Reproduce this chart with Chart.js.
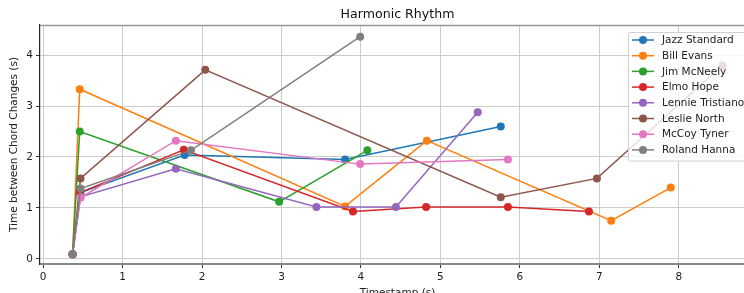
<!DOCTYPE html>
<html>
<head>
<meta charset="utf-8">
<script src="https://cdn.jsdelivr.net/npm/chart.js@4/dist/chart.umd.min.js"></script>
<style>
  html, body { margin: 0; padding: 0; background: #fff; }
  #wrap { width: 744px; height: 293px; overflow: hidden; position: relative; }
  canvas { display: block; }
</style>
</head>
<body>
<div id="wrap"><canvas id="myChart" width="770" height="300"></canvas></div>
<script>
  // series names and colours (matplotlib tab10)
  const names = ['Jazz Standard', 'Bill Evans', 'Jim McNeely', 'Elmo Hope',
    'Lennie Tristiano', 'Leslie North', 'McCoy Tyner', 'Roland Hanna'];
  const colors = ['#1f77b4', '#ff7f0e', '#2ca02c', '#d62728',
    '#9467bd', '#8c564b', '#e377c2', '#7f7f7f'];

  // timestamps (s) and time between chord changes (s)
  const jazzT = [0.37, 0.47, 1.78, 3.80, 5.76];
  const jazzV = [0.09, 1.30, 2.04, 1.95, 2.60];
  const evansT = [0.37, 0.46, 3.80, 4.83, 7.15, 7.90];
  const evansV = [0.09, 3.33, 1.03, 2.32, 0.75, 1.40];
  const mcneelyT = [0.37, 0.46, 2.97, 4.08];
  const mcneelyV = [0.09, 2.50, 1.12, 2.13];
  const hopeT = [0.37, 0.46, 1.77, 3.90, 4.82, 5.85, 6.87];
  const hopeV = [0.09, 1.30, 2.14, 0.93, 1.02, 1.02, 0.93];
  const tristanoT = [0.37, 0.47, 1.67, 3.44, 4.44, 5.47];
  const tristanoV = [0.09, 1.22, 1.77, 1.02, 1.02, 2.88];
  const northT = [0.37, 0.47, 2.04, 5.76, 6.97, 8.55];
  const northV = [0.09, 1.58, 3.71, 1.21, 1.58, 3.80];
  const tynerT = [0.37, 0.47, 1.67, 3.99, 5.85];
  const tynerV = [0.09, 1.20, 2.32, 1.86, 1.95];
  const hannaT = [0.37, 0.47, 1.86, 3.99];
  const hannaV = [0.09, 1.38, 2.13, 4.36];

  const xTicks = [0, 1, 2, 3, 4, 5, 6, 7, 8];
  const yTicks = [0, 1, 2, 3, 4];

  const allT = [jazzT, evansT, mcneelyT, hopeT, tristanoT, northT, tynerT, hannaT];
  const allV = [jazzV, evansV, mcneelyV, hopeV, tristanoV, northV, tynerV, hannaV];

  Chart.defaults.font.family = 'DejaVu Sans';
  Chart.defaults.font.size = 10.5;
  Chart.defaults.color = '#222';

  const datasets = names.map(function(name, i) {
    return {
      label: name,
      data: allT[i].map(function(t, j) { return {x: t, y: allV[i][j]}; }),
      borderColor: colors[i],
      backgroundColor: colors[i],
      showLine: true,
      borderWidth: 1.5,
      pointRadius: 4,
      pointHoverRadius: 4,
      pointBorderWidth: 0,
      order: names.length - i
    };
  });

  // title, top spine and the legend inside the plot, drawn by hand
  const extras = {
    id: 'extras',
    afterDraw: function(chart) {
      const ctx = chart.ctx;
      const a = chart.chartArea;
      ctx.save();
      ctx.strokeStyle = '#999';
      ctx.lineWidth = 1.5;
      ctx.beginPath();
      ctx.moveTo(a.left, a.top + 0.5);
      ctx.lineTo(a.right, a.top + 0.5);
      ctx.stroke();

      ctx.fillStyle = '#111';
      ctx.font = '12.6px "DejaVu Sans"';
      ctx.textAlign = 'center';
      ctx.textBaseline = 'middle';
      ctx.fillText('Harmonic Rhythm', (a.left + a.right) / 2, 15);

      // legend
      const bx = 628, by = 32, rowH = 15.7;
      ctx.fillStyle = 'rgba(255,255,255,0.8)';
      ctx.strokeStyle = '#d0d0d0';
      ctx.lineWidth = 1;
      ctx.beginPath();
      ctx.roundRect(bx + 0.5, by + 0.5, 130, rowH * names.length + 3, 2);
      ctx.fill();
      ctx.stroke();
      ctx.font = '10.5px "DejaVu Sans"';
      ctx.textAlign = 'left';
      for (let i = 0; i < names.length; i++) {
        const yy = by + 8 + i * rowH;
        ctx.strokeStyle = colors[i];
        ctx.lineWidth = 1.5;
        ctx.beginPath();
        ctx.moveTo(632, yy);
        ctx.lineTo(654, yy);
        ctx.stroke();
        ctx.fillStyle = colors[i];
        ctx.beginPath();
        ctx.arc(643, yy, 4, 0, Math.PI * 2);
        ctx.fill();
        ctx.fillStyle = '#222';
        ctx.fillText(names[i], 662, yy + 0.5);
      }
      ctx.restore();
    }
  };

  const config = {
    type: 'scatter',
    data: { datasets: datasets },
    plugins: [extras],
    options: {
      responsive: false,
      animation: false,
      devicePixelRatio: 1,
      layout: { padding: { top: 25, left: 0, right: 15, bottom: 0 } },
      plugins: {
        legend: { display: false },
        tooltip: { enabled: false }
      },
      scales: {
        x: {
          type: 'linear',
          min: -0.04,
          max: 8.96,
          afterFit: function(scale) { scale.height = 36; },
          afterBuildTicks: function(scale) {
            scale.ticks = xTicks.map(function(v) { return {value: v}; });
          },
          ticks: { padding: 3, color: '#222', maxRotation: 0 },
          grid: { color: '#cccccc', lineWidth: 1, tickLength: 4, tickColor: '#333' },
          border: { display: true, color: '#888', width: 2 },
          title: { display: true, text: 'Timestamp (s)', color: '#222', padding: { top: 0, bottom: 0 } }
        },
        y: {
          type: 'linear',
          min: -0.1,
          max: 4.59,
          afterFit: function(scale) { scale.width = 40; },
          afterBuildTicks: function(scale) {
            scale.ticks = yTicks.map(function(v) { return {value: v}; });
          },
          ticks: { padding: 3, color: '#222' },
          grid: { color: '#cccccc', lineWidth: 1, tickLength: 4, tickColor: '#333' },
          border: { display: true, color: '#222', width: 1.2 },
          title: { display: true, text: 'Time between Chord Changes (s)', color: '#222', padding: { top: 8, bottom: 0 } }
        }
      }
    }
  };

  const myChart = new Chart(document.getElementById('myChart'), config);
</script>
</body>
</html>
